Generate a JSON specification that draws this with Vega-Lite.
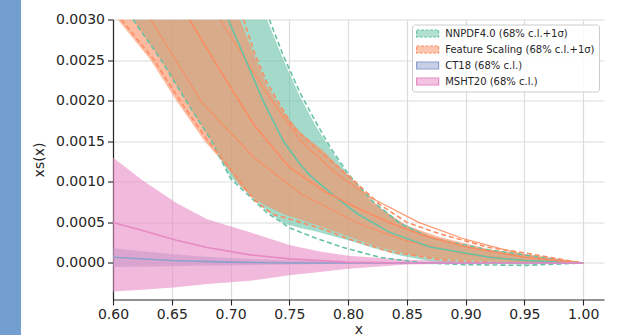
{
  "$schema": "https://vega.github.io/schema/vega-lite/v6.json",
  "width": 491,
  "height": 280,
  "autosize": {"type": "none"},
  "padding": {"left": 113, "top": 19.5, "right": 23, "bottom": 35.5},
  "background": "#729fcf",
  "config": {
    "view": {"fill": "white", "stroke": "white", "strokeWidth": 184},
    "font": "DejaVu Sans",
    "axis": {
      "labelFont": "DejaVu Sans", "labelFontSize": 14, "labelColor": "#262626",
      "titleFont": "DejaVu Sans", "titleFontSize": 14, "titleFontWeight": "normal", "titleColor": "#262626",
      "domainColor": "#262626", "domainWidth": 1.2, "tickColor": "#262626", "tickSize": 5.5, "tickWidth": 1.1,
      "grid": true, "gridColor": "#dcdcdc", "gridWidth": 1.2, "labelFlush": false, "labelOverlap": false
    }
  },
  "datasets": {
    "green_band": [
      {"pdf": "NNPDF4.0 (68% c.l.+1σ)", "x": 0.617, "lo": 0.003, "hi": 0.003},
      {"pdf": "NNPDF4.0 (68% c.l.+1σ)", "x": 0.641, "lo": 0.0025, "hi": 0.003},
      {"pdf": "NNPDF4.0 (68% c.l.+1σ)", "x": 0.662, "lo": 0.002, "hi": 0.003},
      {"pdf": "NNPDF4.0 (68% c.l.+1σ)", "x": 0.684, "lo": 0.0015, "hi": 0.003},
      {"pdf": "NNPDF4.0 (68% c.l.+1σ)", "x": 0.70, "lo": 0.00106, "hi": 0.003},
      {"pdf": "NNPDF4.0 (68% c.l.+1σ)", "x": 0.731, "lo": 0.00064, "hi": 0.003},
      {"pdf": "NNPDF4.0 (68% c.l.+1σ)", "x": 0.745, "lo": 0.00049, "hi": 0.0025},
      {"pdf": "NNPDF4.0 (68% c.l.+1σ)", "x": 0.759, "lo": 0.00043, "hi": 0.00205},
      {"pdf": "NNPDF4.0 (68% c.l.+1σ)", "x": 0.772, "lo": 0.00039, "hi": 0.0017},
      {"pdf": "NNPDF4.0 (68% c.l.+1σ)", "x": 0.785, "lo": 0.00034, "hi": 0.0014},
      {"pdf": "NNPDF4.0 (68% c.l.+1σ)", "x": 0.80, "lo": 0.00028, "hi": 0.00108},
      {"pdf": "NNPDF4.0 (68% c.l.+1σ)", "x": 0.82, "lo": 0.00019, "hi": 0.00075},
      {"pdf": "NNPDF4.0 (68% c.l.+1σ)", "x": 0.845, "lo": 0.00009, "hi": 0.0005},
      {"pdf": "NNPDF4.0 (68% c.l.+1σ)", "x": 0.87, "lo": 0.00002, "hi": 0.00033},
      {"pdf": "NNPDF4.0 (68% c.l.+1σ)", "x": 0.895, "lo": 0.0, "hi": 0.00023},
      {"pdf": "NNPDF4.0 (68% c.l.+1σ)", "x": 0.92, "lo": -0.00001, "hi": 0.00016},
      {"pdf": "NNPDF4.0 (68% c.l.+1σ)", "x": 0.95, "lo": -0.00002, "hi": 0.0001},
      {"pdf": "NNPDF4.0 (68% c.l.+1σ)", "x": 0.975, "lo": -0.00001, "hi": 0.00005},
      {"pdf": "NNPDF4.0 (68% c.l.+1σ)", "x": 1.0, "lo": 0.0, "hi": 0.0}
    ],
    "orange_band": [
      {"pdf": "Feature Scaling (68% c.l.+1σ)", "x": 0.604, "lo": 0.003, "hi": 0.003},
      {"pdf": "Feature Scaling (68% c.l.+1σ)", "x": 0.632, "lo": 0.0025, "hi": 0.003},
      {"pdf": "Feature Scaling (68% c.l.+1σ)", "x": 0.654, "lo": 0.002, "hi": 0.003},
      {"pdf": "Feature Scaling (68% c.l.+1σ)", "x": 0.678, "lo": 0.0015, "hi": 0.003},
      {"pdf": "Feature Scaling (68% c.l.+1σ)", "x": 0.69, "lo": 0.0013, "hi": 0.003},
      {"pdf": "Feature Scaling (68% c.l.+1σ)", "x": 0.70, "lo": 0.00112, "hi": 0.003},
      {"pdf": "Feature Scaling (68% c.l.+1σ)", "x": 0.708, "lo": 0.00095, "hi": 0.003},
      {"pdf": "Feature Scaling (68% c.l.+1σ)", "x": 0.719, "lo": 0.0008, "hi": 0.0026},
      {"pdf": "Feature Scaling (68% c.l.+1σ)", "x": 0.731, "lo": 0.0007, "hi": 0.00218},
      {"pdf": "Feature Scaling (68% c.l.+1σ)", "x": 0.745, "lo": 0.0006, "hi": 0.00186},
      {"pdf": "Feature Scaling (68% c.l.+1σ)", "x": 0.76, "lo": 0.00053, "hi": 0.0016},
      {"pdf": "Feature Scaling (68% c.l.+1σ)", "x": 0.7786, "lo": 0.00044, "hi": 0.00139},
      {"pdf": "Feature Scaling (68% c.l.+1σ)", "x": 0.79, "lo": 0.00038, "hi": 0.00122},
      {"pdf": "Feature Scaling (68% c.l.+1σ)", "x": 0.8075, "lo": 0.00029, "hi": 0.00098},
      {"pdf": "Feature Scaling (68% c.l.+1σ)", "x": 0.827, "lo": 0.00019, "hi": 0.00068},
      {"pdf": "Feature Scaling (68% c.l.+1σ)", "x": 0.85, "lo": 0.00011, "hi": 0.00046},
      {"pdf": "Feature Scaling (68% c.l.+1σ)", "x": 0.878, "lo": 0.00005, "hi": 0.00032},
      {"pdf": "Feature Scaling (68% c.l.+1σ)", "x": 0.92, "lo": 0.00002, "hi": 0.00017},
      {"pdf": "Feature Scaling (68% c.l.+1σ)", "x": 0.952, "lo": 0.00001, "hi": 0.0001},
      {"pdf": "Feature Scaling (68% c.l.+1σ)", "x": 0.975, "lo": 0.000003, "hi": 0.00005},
      {"pdf": "Feature Scaling (68% c.l.+1σ)", "x": 1.0, "lo": 0.0, "hi": 0.0}
    ],
    "ct_band": [
      {"pdf": "CT18 (68% c.l.)", "x": 0.6, "lo": -0.00005, "hi": 0.00018},
      {"pdf": "CT18 (68% c.l.)", "x": 0.625, "lo": -0.000045, "hi": 0.000145},
      {"pdf": "CT18 (68% c.l.)", "x": 0.65, "lo": -0.00004, "hi": 0.00011},
      {"pdf": "CT18 (68% c.l.)", "x": 0.675, "lo": -0.000035, "hi": 0.00008},
      {"pdf": "CT18 (68% c.l.)", "x": 0.7, "lo": -0.00003, "hi": 0.00006},
      {"pdf": "CT18 (68% c.l.)", "x": 0.75, "lo": -0.00002, "hi": 0.00003},
      {"pdf": "CT18 (68% c.l.)", "x": 0.8, "lo": -0.00001, "hi": 0.000012},
      {"pdf": "CT18 (68% c.l.)", "x": 0.85, "lo": -0.000005, "hi": 0.000005},
      {"pdf": "CT18 (68% c.l.)", "x": 0.9, "lo": -0.000002, "hi": 0.000002},
      {"pdf": "CT18 (68% c.l.)", "x": 1.0, "lo": 0.0, "hi": 0.0}
    ],
    "msht_band": [
      {"pdf": "MSHT20 (68% c.l.)", "x": 0.6, "lo": -0.00035, "hi": 0.0013},
      {"pdf": "MSHT20 (68% c.l.)", "x": 0.625, "lo": -0.00033, "hi": 0.00102},
      {"pdf": "MSHT20 (68% c.l.)", "x": 0.654, "lo": -0.0003, "hi": 0.00074},
      {"pdf": "MSHT20 (68% c.l.)", "x": 0.68, "lo": -0.00026, "hi": 0.00054},
      {"pdf": "MSHT20 (68% c.l.)", "x": 0.7165, "lo": -0.00022, "hi": 0.00038},
      {"pdf": "MSHT20 (68% c.l.)", "x": 0.75, "lo": -0.00015, "hi": 0.00022},
      {"pdf": "MSHT20 (68% c.l.)", "x": 0.776, "lo": -0.00011, "hi": 0.00014},
      {"pdf": "MSHT20 (68% c.l.)", "x": 0.8, "lo": -0.00007, "hi": 0.00009},
      {"pdf": "MSHT20 (68% c.l.)", "x": 0.85, "lo": -0.00002, "hi": 0.00004},
      {"pdf": "MSHT20 (68% c.l.)", "x": 0.9, "lo": -0.000005, "hi": 0.000015},
      {"pdf": "MSHT20 (68% c.l.)", "x": 0.95, "lo": 0.0, "hi": 0.000004},
      {"pdf": "MSHT20 (68% c.l.)", "x": 1.0, "lo": 0.0, "hi": 0.0}
    ],
    "dashed": [
      {"pdf": "NNPDF4.0 (68% c.l.+1σ)", "edge": "lower", "x": 0.617, "y": 0.003},
      {"pdf": "NNPDF4.0 (68% c.l.+1σ)", "edge": "lower", "x": 0.641, "y": 0.0025},
      {"pdf": "NNPDF4.0 (68% c.l.+1σ)", "edge": "lower", "x": 0.662, "y": 0.002},
      {"pdf": "NNPDF4.0 (68% c.l.+1σ)", "edge": "lower", "x": 0.684, "y": 0.0015},
      {"pdf": "NNPDF4.0 (68% c.l.+1σ)", "edge": "lower", "x": 0.70, "y": 0.00104},
      {"pdf": "NNPDF4.0 (68% c.l.+1σ)", "edge": "lower", "x": 0.731, "y": 0.00062},
      {"pdf": "NNPDF4.0 (68% c.l.+1σ)", "edge": "lower", "x": 0.7506, "y": 0.00043},
      {"pdf": "NNPDF4.0 (68% c.l.+1σ)", "edge": "lower", "x": 0.7735, "y": 0.0003},
      {"pdf": "NNPDF4.0 (68% c.l.+1σ)", "edge": "lower", "x": 0.796, "y": 0.00019},
      {"pdf": "NNPDF4.0 (68% c.l.+1σ)", "edge": "lower", "x": 0.827, "y": 0.00007},
      {"pdf": "NNPDF4.0 (68% c.l.+1σ)", "edge": "lower", "x": 0.864, "y": 0.0},
      {"pdf": "NNPDF4.0 (68% c.l.+1σ)", "edge": "lower", "x": 0.9, "y": -0.00002},
      {"pdf": "NNPDF4.0 (68% c.l.+1σ)", "edge": "lower", "x": 0.95, "y": -0.00003},
      {"pdf": "NNPDF4.0 (68% c.l.+1σ)", "edge": "lower", "x": 1.0, "y": 0.0},
      {"pdf": "NNPDF4.0 (68% c.l.+1σ)", "edge": "upper", "x": 0.733, "y": 0.003},
      {"pdf": "NNPDF4.0 (68% c.l.+1σ)", "edge": "upper", "x": 0.745, "y": 0.00255},
      {"pdf": "NNPDF4.0 (68% c.l.+1σ)", "edge": "upper", "x": 0.759, "y": 0.0021},
      {"pdf": "NNPDF4.0 (68% c.l.+1σ)", "edge": "upper", "x": 0.772, "y": 0.00175},
      {"pdf": "NNPDF4.0 (68% c.l.+1σ)", "edge": "upper", "x": 0.785, "y": 0.00142},
      {"pdf": "NNPDF4.0 (68% c.l.+1σ)", "edge": "upper", "x": 0.80, "y": 0.0011},
      {"pdf": "NNPDF4.0 (68% c.l.+1σ)", "edge": "upper", "x": 0.82, "y": 0.00077},
      {"pdf": "NNPDF4.0 (68% c.l.+1σ)", "edge": "upper", "x": 0.845, "y": 0.00048},
      {"pdf": "NNPDF4.0 (68% c.l.+1σ)", "edge": "upper", "x": 0.87, "y": 0.00031},
      {"pdf": "NNPDF4.0 (68% c.l.+1σ)", "edge": "upper", "x": 0.92, "y": 0.00016},
      {"pdf": "NNPDF4.0 (68% c.l.+1σ)", "edge": "upper", "x": 0.95, "y": 0.0001},
      {"pdf": "NNPDF4.0 (68% c.l.+1σ)", "edge": "upper", "x": 0.975, "y": 0.00005},
      {"pdf": "NNPDF4.0 (68% c.l.+1σ)", "edge": "upper", "x": 1.0, "y": 0.0},
      {"pdf": "Feature Scaling (68% c.l.+1σ)", "edge": "lower", "x": 0.607, "y": 0.003},
      {"pdf": "Feature Scaling (68% c.l.+1σ)", "edge": "lower", "x": 0.635, "y": 0.0025},
      {"pdf": "Feature Scaling (68% c.l.+1σ)", "edge": "lower", "x": 0.657, "y": 0.002},
      {"pdf": "Feature Scaling (68% c.l.+1σ)", "edge": "lower", "x": 0.681, "y": 0.0015},
      {"pdf": "Feature Scaling (68% c.l.+1σ)", "edge": "lower", "x": 0.702, "y": 0.00112},
      {"pdf": "Feature Scaling (68% c.l.+1σ)", "edge": "lower", "x": 0.72, "y": 0.00078},
      {"pdf": "Feature Scaling (68% c.l.+1σ)", "edge": "lower", "x": 0.736, "y": 0.0006},
      {"pdf": "Feature Scaling (68% c.l.+1σ)", "edge": "lower", "x": 0.7506, "y": 0.00054},
      {"pdf": "Feature Scaling (68% c.l.+1σ)", "edge": "lower", "x": 0.776, "y": 0.00043},
      {"pdf": "Feature Scaling (68% c.l.+1σ)", "edge": "lower", "x": 0.80, "y": 0.0003},
      {"pdf": "Feature Scaling (68% c.l.+1σ)", "edge": "lower", "x": 0.8356, "y": 0.00014},
      {"pdf": "Feature Scaling (68% c.l.+1σ)", "edge": "lower", "x": 0.878, "y": 0.00004},
      {"pdf": "Feature Scaling (68% c.l.+1σ)", "edge": "lower", "x": 0.92, "y": 0.00001},
      {"pdf": "Feature Scaling (68% c.l.+1σ)", "edge": "lower", "x": 1.0, "y": 0.0},
      {"pdf": "Feature Scaling (68% c.l.+1σ)", "edge": "upper", "x": 0.711, "y": 0.003},
      {"pdf": "Feature Scaling (68% c.l.+1σ)", "edge": "upper", "x": 0.72, "y": 0.0026},
      {"pdf": "Feature Scaling (68% c.l.+1σ)", "edge": "upper", "x": 0.731, "y": 0.00222},
      {"pdf": "Feature Scaling (68% c.l.+1σ)", "edge": "upper", "x": 0.753, "y": 0.00168},
      {"pdf": "Feature Scaling (68% c.l.+1σ)", "edge": "upper", "x": 0.7735, "y": 0.0014},
      {"pdf": "Feature Scaling (68% c.l.+1σ)", "edge": "upper", "x": 0.80, "y": 0.00108},
      {"pdf": "Feature Scaling (68% c.l.+1σ)", "edge": "upper", "x": 0.827, "y": 0.00072},
      {"pdf": "Feature Scaling (68% c.l.+1σ)", "edge": "upper", "x": 0.85, "y": 0.0005},
      {"pdf": "Feature Scaling (68% c.l.+1σ)", "edge": "upper", "x": 0.878, "y": 0.00036},
      {"pdf": "Feature Scaling (68% c.l.+1σ)", "edge": "upper", "x": 0.92, "y": 0.00019},
      {"pdf": "Feature Scaling (68% c.l.+1σ)", "edge": "upper", "x": 0.952, "y": 0.00012},
      {"pdf": "Feature Scaling (68% c.l.+1σ)", "edge": "upper", "x": 0.975, "y": 0.00006},
      {"pdf": "Feature Scaling (68% c.l.+1σ)", "edge": "upper", "x": 1.0, "y": 0.0}
    ],
    "central": [
      {"pdf": "NNPDF4.0 (68% c.l.+1σ)", "x": 0.698, "y": 0.003},
      {"pdf": "NNPDF4.0 (68% c.l.+1σ)", "x": 0.71, "y": 0.0026},
      {"pdf": "NNPDF4.0 (68% c.l.+1σ)", "x": 0.7276, "y": 0.002},
      {"pdf": "NNPDF4.0 (68% c.l.+1σ)", "x": 0.745, "y": 0.0015},
      {"pdf": "NNPDF4.0 (68% c.l.+1σ)", "x": 0.759, "y": 0.00122},
      {"pdf": "NNPDF4.0 (68% c.l.+1σ)", "x": 0.7676, "y": 0.00108},
      {"pdf": "NNPDF4.0 (68% c.l.+1σ)", "x": 0.787, "y": 0.00084},
      {"pdf": "NNPDF4.0 (68% c.l.+1σ)", "x": 0.8075, "y": 0.00061},
      {"pdf": "NNPDF4.0 (68% c.l.+1σ)", "x": 0.835, "y": 0.00038},
      {"pdf": "NNPDF4.0 (68% c.l.+1σ)", "x": 0.869, "y": 0.0002},
      {"pdf": "NNPDF4.0 (68% c.l.+1σ)", "x": 0.92, "y": 0.00007},
      {"pdf": "NNPDF4.0 (68% c.l.+1σ)", "x": 0.95, "y": 0.00003},
      {"pdf": "NNPDF4.0 (68% c.l.+1σ)", "x": 1.0, "y": 0.0},
      {"pdf": "Feature Scaling (68% c.l.+1σ)", "x": 0.665, "y": 0.003},
      {"pdf": "Feature Scaling (68% c.l.+1σ)", "x": 0.69, "y": 0.0024},
      {"pdf": "Feature Scaling (68% c.l.+1σ)", "x": 0.72, "y": 0.0017},
      {"pdf": "Feature Scaling (68% c.l.+1σ)", "x": 0.75, "y": 0.00118},
      {"pdf": "Feature Scaling (68% c.l.+1σ)", "x": 0.78, "y": 0.00088},
      {"pdf": "Feature Scaling (68% c.l.+1σ)", "x": 0.8075, "y": 0.00068},
      {"pdf": "Feature Scaling (68% c.l.+1σ)", "x": 0.835, "y": 0.0005},
      {"pdf": "Feature Scaling (68% c.l.+1σ)", "x": 0.864, "y": 0.00034},
      {"pdf": "Feature Scaling (68% c.l.+1σ)", "x": 0.9, "y": 0.0002},
      {"pdf": "Feature Scaling (68% c.l.+1σ)", "x": 0.95, "y": 0.00007},
      {"pdf": "Feature Scaling (68% c.l.+1σ)", "x": 1.0, "y": 0.0},
      {"pdf": "CT18 (68% c.l.)", "x": 0.6, "y": 0.00007},
      {"pdf": "CT18 (68% c.l.)", "x": 0.65, "y": 0.00003},
      {"pdf": "CT18 (68% c.l.)", "x": 0.7, "y": 0.00001},
      {"pdf": "CT18 (68% c.l.)", "x": 0.75, "y": 0.0},
      {"pdf": "CT18 (68% c.l.)", "x": 1.0, "y": 0.0},
      {"pdf": "MSHT20 (68% c.l.)", "x": 0.6, "y": 0.0005},
      {"pdf": "MSHT20 (68% c.l.)", "x": 0.625, "y": 0.0004},
      {"pdf": "MSHT20 (68% c.l.)", "x": 0.654, "y": 0.00028},
      {"pdf": "MSHT20 (68% c.l.)", "x": 0.68, "y": 0.00019},
      {"pdf": "MSHT20 (68% c.l.)", "x": 0.7165, "y": 0.0001},
      {"pdf": "MSHT20 (68% c.l.)", "x": 0.75, "y": 0.00005},
      {"pdf": "MSHT20 (68% c.l.)", "x": 0.8, "y": 0.00001},
      {"pdf": "MSHT20 (68% c.l.)", "x": 0.85, "y": 0.0},
      {"pdf": "MSHT20 (68% c.l.)", "x": 1.0, "y": 0.0}
    ],
    "fs_lines": [
      {"pdf": "Feature Scaling (68% c.l.+1σ)", "curve": "a", "x": 0.632, "y": 0.003},
      {"pdf": "Feature Scaling (68% c.l.+1σ)", "curve": "a", "x": 0.676, "y": 0.00197},
      {"pdf": "Feature Scaling (68% c.l.+1σ)", "curve": "a", "x": 0.72, "y": 0.0013},
      {"pdf": "Feature Scaling (68% c.l.+1σ)", "curve": "a", "x": 0.76, "y": 0.00085},
      {"pdf": "Feature Scaling (68% c.l.+1σ)", "curve": "a", "x": 0.81, "y": 0.00048},
      {"pdf": "Feature Scaling (68% c.l.+1σ)", "curve": "a", "x": 0.85, "y": 0.00027},
      {"pdf": "Feature Scaling (68% c.l.+1σ)", "curve": "a", "x": 0.9, "y": 0.00011},
      {"pdf": "Feature Scaling (68% c.l.+1σ)", "curve": "a", "x": 0.95, "y": 0.00003},
      {"pdf": "Feature Scaling (68% c.l.+1σ)", "curve": "a", "x": 1.0, "y": 0.0},
      {"pdf": "Feature Scaling (68% c.l.+1σ)", "curve": "b", "x": 0.691, "y": 0.003},
      {"pdf": "Feature Scaling (68% c.l.+1σ)", "curve": "b", "x": 0.7336, "y": 0.00203},
      {"pdf": "Feature Scaling (68% c.l.+1σ)", "curve": "b", "x": 0.76, "y": 0.0015},
      {"pdf": "Feature Scaling (68% c.l.+1σ)", "curve": "b", "x": 0.79, "y": 0.0011},
      {"pdf": "Feature Scaling (68% c.l.+1σ)", "curve": "b", "x": 0.82, "y": 0.0008},
      {"pdf": "Feature Scaling (68% c.l.+1σ)", "curve": "b", "x": 0.86, "y": 0.0005},
      {"pdf": "Feature Scaling (68% c.l.+1σ)", "curve": "b", "x": 0.9, "y": 0.00029},
      {"pdf": "Feature Scaling (68% c.l.+1σ)", "curve": "b", "x": 0.95, "y": 0.0001},
      {"pdf": "Feature Scaling (68% c.l.+1σ)", "curve": "b", "x": 1.0, "y": 0.0}
    ]
  },
  "layer": [
    {
      "data": {"name": "green_band"},
      "mark": {"type": "area", "clip": true, "fillOpacity": 0.6},
      "encoding": {
        "x": {"field": "x", "type": "quantitative", "scale": {"domain": [0.6, 1.0177], "nice": false, "zero": false},
          "axis": {"values": [0.6, 0.65, 0.7, 0.75, 0.8, 0.85, 0.9, 0.95, 1.0], "format": ".2f", "title": "x", "labelPadding": 2, "titlePadding": 1}},
        "y": {"field": "hi", "type": "quantitative", "scale": {"domain": [-0.00045, 0.003], "nice": false, "zero": false},
          "axis": {"values": [0, 0.0005, 0.001, 0.0015, 0.002, 0.0025, 0.003], "format": ".4f", "title": "xs(x)", "labelPadding": 3, "titlePadding": 9}},
        "y2": {"field": "lo"},
        "color": {"field": "pdf", "type": "nominal",
          "scale": {"domain": ["NNPDF4.0 (68% c.l.+1σ)", "Feature Scaling (68% c.l.+1σ)", "CT18 (68% c.l.)", "MSHT20 (68% c.l.)"],
                    "range": ["#66c2a5", "#fc8d62", "#8da0cb", "#e78ac3"]},
          "legend": {
            "title": null, "orient": "top-right", "offset": 5, "padding": 4, "rowPadding": 4,
            "labelFont": "DejaVu Sans", "labelFontSize": 10, "labelColor": "#262626", "labelOffset": 19.2, "labelLimit": 300,
            "fillColor": "rgba(255,255,255,0.85)", "strokeColor": "#cccccc", "cornerRadius": 3,
            "symbolType": "M-1,-0.8H4V0.8H-1Z", "symbolSize": 77.4,
            "encode": {"symbols": {"update": {
              "fill": {"signal": "scale('color', datum.value)"},
              "fillOpacity": {"value": 0.5},
              "stroke": {"signal": "scale('color', datum.value)"},
              "strokeWidth": {"value": 1.2},
              "strokeDash": {"signal": "indexof(datum.value, 'σ') >= 0 ? [3, 1.5] : []"},
              "opacity": {"value": 1}
            }}}
          }}
      }
    },
    {
      "data": {"name": "orange_band"},
      "mark": {"type": "area", "clip": true, "fillOpacity": 0.6},
      "encoding": {
        "x": {"field": "x", "type": "quantitative"},
        "y": {"field": "hi", "type": "quantitative"},
        "y2": {"field": "lo"},
        "color": {"field": "pdf", "type": "nominal"}
      }
    },
    {
      "data": {"name": "ct_band"},
      "mark": {"type": "area", "clip": true, "fillOpacity": 0.5},
      "encoding": {
        "x": {"field": "x", "type": "quantitative"},
        "y": {"field": "hi", "type": "quantitative"},
        "y2": {"field": "lo"},
        "color": {"field": "pdf", "type": "nominal"}
      }
    },
    {
      "data": {"name": "msht_band"},
      "mark": {"type": "area", "clip": true, "fillOpacity": 0.6},
      "encoding": {
        "x": {"field": "x", "type": "quantitative"},
        "y": {"field": "hi", "type": "quantitative"},
        "y2": {"field": "lo"},
        "color": {"field": "pdf", "type": "nominal"}
      }
    },
    {
      "data": {"name": "fs_lines"},
      "mark": {"type": "line", "clip": true, "strokeWidth": 1.2, "opacity": 0.9},
      "encoding": {
        "x": {"field": "x", "type": "quantitative"},
        "y": {"field": "y", "type": "quantitative"},
        "color": {"field": "pdf", "type": "nominal"},
        "detail": {"field": "curve"}
      }
    },
    {
      "data": {"name": "dashed"},
      "mark": {"type": "line", "clip": true, "strokeWidth": 1.6, "strokeDash": [5, 3]},
      "encoding": {
        "x": {"field": "x", "type": "quantitative"},
        "y": {"field": "y", "type": "quantitative"},
        "color": {"field": "pdf", "type": "nominal"},
        "detail": {"field": "edge"}
      }
    },
    {
      "data": {"name": "central"},
      "mark": {"type": "line", "clip": true, "strokeWidth": 1.6},
      "encoding": {
        "x": {"field": "x", "type": "quantitative"},
        "y": {"field": "y", "type": "quantitative"},
        "color": {"field": "pdf", "type": "nominal"}
      }
    }
  ]
}
